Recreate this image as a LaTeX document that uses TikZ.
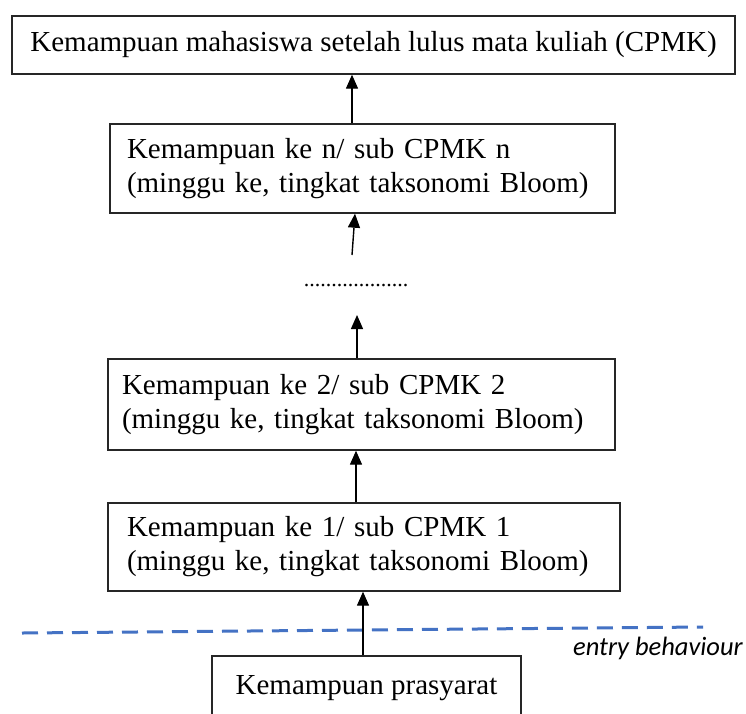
\documentclass[tikz,border=0pt]{standalone}
\usepackage{fontspec}
\setmainfont{Liberation Serif}
\newfontfamily\calib{Carlito}
\usetikzlibrary{arrows.meta}
\definecolor{dashblue}{HTML}{4472C4}
\tikzset{
  box/.style={draw=black!85, line width=1.4pt, fill=white, font=\fontsize{29}{34}\selectfont, inner ysep=0pt},
  leftbox/.style={box, align=left},
  arr/.style={draw=black, line width=1.4pt, -{Triangle[width=12pt,length=14pt]}},
  sep/.style={draw=dashblue, line width=3pt, dash pattern=on 16pt off 9pt},
}
\begin{document}
\begin{tikzpicture}[x=1pt,y=-1pt]
\clip (0,0) rectangle (746,713);
\useasboundingbox (0,0) rectangle (746,713);
\fill[white] (0,0) rectangle (746,713);
% boxes
\node[box, minimum width=723pt, minimum height=58pt, inner xsep=0pt] (top) at (373.5,45) {Kemampuan mahasiswa setelah lulus mata kuliah (CPMK)};
\node[leftbox, minimum height=89pt, inner xsep=17pt, text width=471pt] (bn) at (362.5,168.5) {Kemampuan ke n/ sub CPMK n\\(minggu ke, tingkat taksonomi Bloom)};
\node[leftbox, minimum height=91pt, inner xsep=14pt, text width=479pt] (b2) at (361.5,404.5) {Kemampuan ke 2/ sub CPMK 2\\(minggu ke, tingkat taksonomi Bloom)};
\node[leftbox, minimum height=88pt, inner xsep=19pt, text width=474pt] (b1) at (364,547) {Kemampuan ke 1/ sub CPMK 1\\(minggu ke, tingkat taksonomi Bloom)};
\node[box, minimum width=309pt, minimum height=64pt, inner xsep=0pt] (pre) at (366.5,688) {Kemampuan prasyarat};
% dots
\node[font=\fontsize{22}{24}\selectfont, inner sep=0pt] (dots) at (356,286) {...................};
% dashed separator
\coordinate (sepL) at (22,633);
\coordinate (sepR) at (703,627);
\draw[sep] (sepL) -- (sepR);
\node[font=\calib\itshape\fontsize{26.5}{28}\selectfont, anchor=base east, inner sep=0pt] (entry) at (743,655) {entry behaviour};
% arrows
\draw[arr] (bn.north -| 352,0) -- (top.south -| 352,0);
\coordinate (an) at (352,255);
\draw[arr] (an) -- (bn.south -| 355,0);
\coordinate (ad) at (357,315);
\draw[arr] (b2.north -| 357,0) -- (ad);
\draw[arr] (b1.north -| 356,0) -- (b2.south -| 356,0);
\draw[arr] (pre.north -| 363,0) -- (b1.south -| 363,0);
\end{tikzpicture}
\end{document}
